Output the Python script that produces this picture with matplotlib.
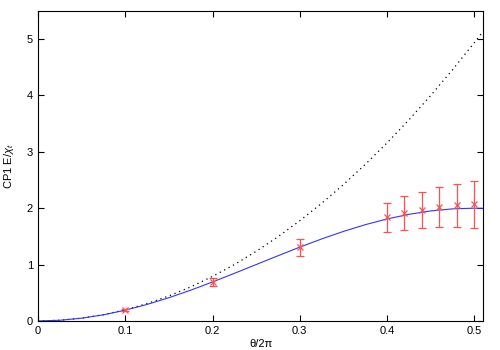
import matplotlib
matplotlib.use("Agg")
import matplotlib.pyplot as plt

plt.rcParams['font.family'] = ['Liberation Sans', 'DejaVu Sans']
plt.rcParams['mathtext.fontset'] = 'custom'
plt.rcParams['mathtext.rm'] = 'Liberation Sans'
plt.rcParams['mathtext.it'] = 'Liberation Sans:italic'

# curves
curve_x = [0, 0.025, 0.05, 0.075, 0.1, 0.125, 0.15, 0.175, 0.2, 0.225, 0.25,
           0.275, 0.3, 0.325, 0.35, 0.375, 0.4, 0.425, 0.45, 0.475, 0.5, 0.51]
blue_y = [0, 0.012, 0.049, 0.109, 0.191, 0.293, 0.412, 0.546, 0.691, 0.844, 1.0,
          1.156, 1.309, 1.454, 1.588, 1.707, 1.809, 1.891, 1.951, 1.988, 2.0, 1.998]
dotted_y = [0, 0.012, 0.049, 0.111, 0.197, 0.308, 0.444, 0.604, 0.790, 0.999, 1.234,
            1.493, 1.777, 2.085, 2.418, 2.776, 3.158, 3.565, 3.997, 4.454, 4.935, 5.134]

# measured points
pts_x = [0.1, 0.2, 0.3, 0.4, 0.42, 0.44, 0.46, 0.48, 0.5]
pts_y = [0.19, 0.69, 1.31, 1.84, 1.91, 1.97, 2.02, 2.05, 2.07]
pts_err = [0.02, 0.07, 0.15, 0.26, 0.30, 0.32, 0.35, 0.38, 0.42]

xticks = [0, 0.1, 0.2, 0.3, 0.4, 0.5]
yticks = [0, 1, 2, 3, 4, 5]

fig = plt.figure(figsize=(5, 3.5), dpi=100)
ax = fig.add_axes([0.076, 0.083, 0.89, 0.886])

ax.plot(curve_x, dotted_y, color='black', linestyle=(0, (1, 3)), linewidth=0.9)
ax.plot(curve_x, blue_y, color='#3333ff', linewidth=0.8)
ax.errorbar(pts_x, pts_y, yerr=pts_err, fmt='x', color='#ff5050', ms=4,
            mew=0.9, elinewidth=0.9, capsize=3, capthick=0.9)

ax.set_xlim(0, 0.51)
ax.set_ylim(0, 5.5)
ax.set_xticks(xticks)
ax.set_xticklabels(['0', '0.1', '0.2', '0.3', '0.4', '0.5'])
ax.set_yticks(yticks)
ax.tick_params(direction='in', top=True, right=True, labelsize=8, length=4, width=0.8)
for s in ax.spines.values():
    s.set_linewidth(0.8)

ax.set_xlabel('θ/2π', fontsize=8, labelpad=2)
ax.set_ylabel(r'CP1 E/$\chi_t$', fontsize=8, labelpad=8)

fig.savefig('out.png', dpi=100)
